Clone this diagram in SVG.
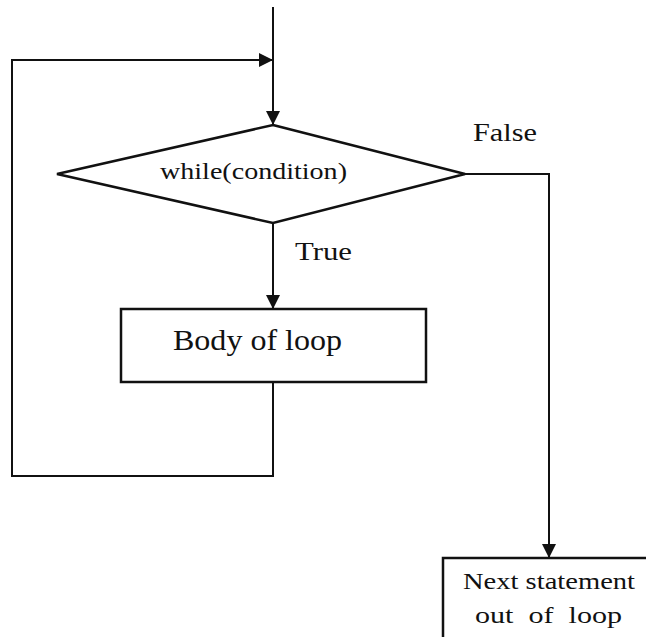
<svg xmlns="http://www.w3.org/2000/svg" width="646" height="637" viewBox="0 0 646 637">
<style>
.ln{fill:none;stroke:#111;stroke-width:2}
.shape{fill:#fff;stroke:#111;stroke-width:2.5}
.t{font-family:'Liberation Serif','Times New Roman','DejaVu Serif',serif;fill:#111}
</style>
<defs>
<marker id="ah" viewBox="0 0 14 14" refX="14" refY="7" markerWidth="14" markerHeight="14" markerUnits="userSpaceOnUse" orient="auto">
<path d="M0,0 L14,7 L0,14 Z" fill="#111"/>
</marker>
</defs>
<rect width="646" height="637" fill="#fff"/>
<g id="connectors">
<path class="ln" d="M273,7 V125" marker-end="url(#ah)"/>
<path class="ln" d="M273,382 V476 H12 V60 H273" marker-end="url(#ah)"/>
<path class="ln" d="M273,223 V309" marker-end="url(#ah)"/>
<path class="ln" d="M465,174 H549 V558" marker-end="url(#ah)"/>
</g>
<g id="decision">
<polygon class="shape" points="273,125 465,174 273,223 57,174"/>
<text class="t" x="160" y="179" font-size="24" textLength="187" lengthAdjust="spacingAndGlyphs">while(condition)</text>
</g>
<g id="body">
<rect class="shape" x="121" y="309" width="305" height="73"/>
<text class="t" x="173" y="350" font-size="30" textLength="169" lengthAdjust="spacingAndGlyphs">Body of loop</text>
</g>
<g id="next">
<rect class="shape" x="443" y="558" width="210" height="90"/>
<text class="t" x="463" y="589" font-size="24" textLength="172" lengthAdjust="spacingAndGlyphs">Next statement</text>
<text class="t" x="475" y="623" font-size="24" textLength="147" lengthAdjust="spacingAndGlyphs" xml:space="preserve">out  of  loop</text>
</g>
<g id="labels">
<text class="t" x="473" y="141" font-size="26" textLength="64" lengthAdjust="spacingAndGlyphs">False</text>
<text class="t" x="295" y="260" font-size="26" textLength="57" lengthAdjust="spacingAndGlyphs">True</text>
</g>
</svg>
